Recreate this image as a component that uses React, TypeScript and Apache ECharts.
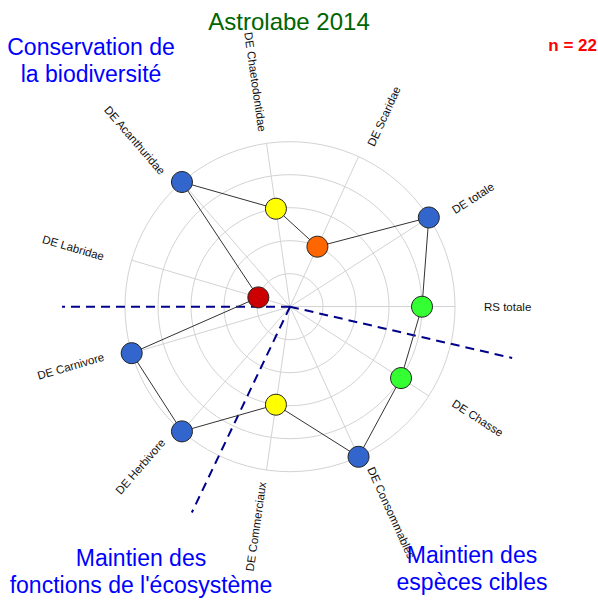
import React, { useEffect, useRef } from "react";
import * as echarts from "echarts";

// ---- Data ----
const categories: string[] = [
  "RS totale",
  "DE totale",
  "DE Scaridae",
  "DE Chaetodontidae",
  "DE Acanthuridae",
  "DE Labridae",
  "DE Carnivore",
  "DE Herbivore",
  "DE Commerciaux",
  "DE Consommables",
  "DE Chasse",
];
const scores: number[] = [4, 5, 2, 3, 5, 1, 5, 5, 3, 5, 4];
const scoreMax = 5;
const scoreColors: Record<number, string> = {
  1: "#CC0000",
  2: "#FF6600",
  3: "#FFFF00",
  4: "#33FF33",
  5: "#3366CC",
};
// angles (degrees, counter-clockwise from the right) of the dashed sector separators
const separatorAngles: number[] = [180, 244.5, 347];
const titleText = "Astrolabe 2014";
const countText = "n = 22";
const sectorLabels: { lines: string[]; x: number; ys: number[] }[] = [
  { lines: ["Conservation de", "la biodiversité"], x: 91, ys: [47, 74] },
  { lines: ["Maintien des", "fonctions de l'écosystème"], x: 141, ys: [558, 585] },
  { lines: ["Maintien des", "espèces cibles"], x: 472, ys: [555, 582] },
];

// ---- Layout ----
const W = 598;
const H = 601;
const CX = 290;
const CY = 306.7;
const RADIUS = 165;
const LABEL_RX = 194;
const LABEL_RY = 177;
const SEP_LEN = 228;
const FONT = '"Liberation Sans", Arial, sans-serif';
const GRID = "#D3D3D3";

export default function App() {
  const ref = useRef<HTMLDivElement>(null);

  useEffect(() => {
    if (!ref.current) return;
    const chart = echarts.init(ref.current, undefined, { renderer: "svg" });
    const n = categories.length;

    const graphics: any[] = [];
    // axis labels, rotated along their spokes
    categories.forEach((name, i) => {
      const rad = ((i * 360) / n) * (Math.PI / 180);
      const right = Math.cos(rad) >= -1e-9;
      graphics.push({
        type: "text",
        x: CX + LABEL_RX * Math.cos(rad),
        y: CY - LABEL_RY * Math.sin(rad),
        rotation: right ? rad : rad - Math.PI,
        z: 10,
        style: {
          text: name,
          fill: "#111111",
          font: `11.5px ${FONT}`,
          align: right ? "left" : "right",
          verticalAlign: "middle",
        },
      });
    });
    // dashed separators
    separatorAngles.forEach((deg) => {
      const rad = (deg * Math.PI) / 180;
      graphics.push({
        type: "line",
        z: 1,
        shape: {
          x1: CX,
          y1: CY,
          x2: CX + SEP_LEN * Math.cos(rad),
          y2: CY - SEP_LEN * Math.sin(rad),
        },
        style: { stroke: "#00008B", lineWidth: 2, lineDash: [9, 6] },
      });
    });
    // title & count
    graphics.push({
      type: "text",
      x: 289,
      y: 21,
      style: {
        text: titleText,
        fill: "#006400",
        font: `24px ${FONT}`,
        align: "center",
        verticalAlign: "middle",
      },
    });
    graphics.push({
      type: "text",
      x: 597,
      y: 45,
      style: {
        text: countText,
        fill: "#FF0000",
        font: `bold 17px ${FONT}`,
        align: "right",
        verticalAlign: "middle",
      },
    });
    sectorLabels.forEach((s) => {
      s.lines.forEach((line, k) => {
        graphics.push({
          type: "text",
          x: s.x,
          y: s.ys[k],
          style: {
            text: line,
            fill: "#0000FF",
            font: `23px ${FONT}`,
            align: "center",
            verticalAlign: "middle",
          },
        });
      });
    });

    chart.setOption({
      animation: false,
      backgroundColor: "#ffffff",
      radar: {
        center: [CX, CY],
        radius: RADIUS,
        startAngle: 0,
        shape: "circle",
        splitNumber: 5,
        indicator: categories.map((name) => ({ name, min: 0, max: scoreMax })),
        axisName: { show: false },
        axisLine: { show: true, lineStyle: { color: GRID, width: 1 } },
        axisTick: { show: false },
        axisLabel: { show: false },
        splitLine: { show: true, lineStyle: { color: GRID, width: 1 } },
        splitArea: { show: false },
        silent: true,
      },
      polar: { center: [CX, CY], radius: RADIUS },
      angleAxis: {
        type: "category",
        data: categories,
        startAngle: 0,
        clockwise: false,
        boundaryGap: false,
        show: false,
      },
      radiusAxis: {
        type: "value",
        min: 0,
        max: scoreMax,
        interval: 1,
        show: false,
      },
      graphic: { elements: graphics },
      series: [
        {
          type: "radar",
          z: 3,
          symbol: "none",
          silent: true,
          lineStyle: { color: "#333333", width: 1 },
          areaStyle: undefined,
          data: [{ value: scores, name: "Astrolabe 2014" }],
        },
        {
          type: "scatter",
          coordinateSystem: "polar",
          clip: false,
          z: 5,
          symbol: "circle",
          symbolSize: 21,
          data: scores.map((v, i) => ({
            value: [v, i],
            itemStyle: { color: scoreColors[v] },
          })),
          itemStyle: { borderColor: "#222222", borderWidth: 1, opacity: 1 },
        },
      ],
    });

    return () => chart.dispose();
  }, []);

  return (
    <div
      ref={ref}
      style={{ position: "absolute", left: 0, top: 0, width: W, height: H }}
    />
  );
}
